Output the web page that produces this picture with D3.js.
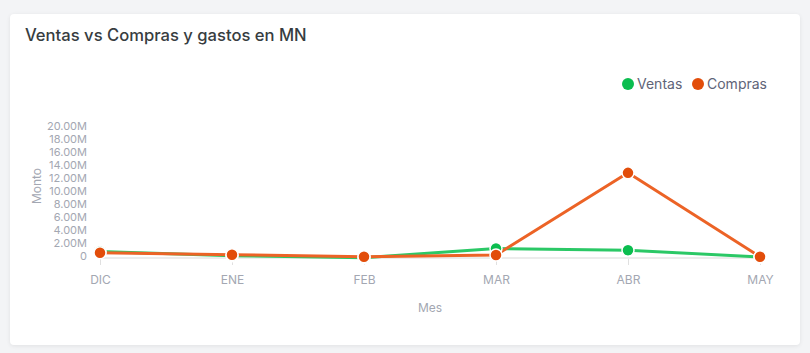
<!DOCTYPE html>
<html>
<head>
<meta charset="utf-8">
<script src="https://cdn.jsdelivr.net/npm/d3@7"></script>
<style>
  body { margin: 0; background: #f3f4f6; font-family: Inter, "Open Sans", sans-serif; }
  #card { position: absolute; left: 10px; top: 14px; width: 790px; height: 331px; background: #fff;
          border-radius: 4px; box-shadow: 0 1px 4px rgba(0,0,0,0.08); }
  svg { position: absolute; left: 0; top: 0; }
</style>
</head>
<body>
<div id="card"></div>
<div id="chart"></div>
<script>
const months = ["DIC", "ENE", "FEB", "MAR", "ABR", "MAY"];
const ventas = [1.0e6, 0.35e6, 0.05e6, 1.45e6, 1.2e6, 0.15e6];
const compras = [0.8e6, 0.5e6, 0.2e6, 0.45e6, 13.05e6, 0.2e6];
const yTicks = [0, 2e6, 4e6, 6e6, 8e6, 10e6, 12e6, 14e6, 16e6, 18e6, 20e6];

const width = 810, height = 353;
const svg = d3.select("#chart").append("svg")
    .attr("width", width)
    .attr("height", height);

const x = d3.scalePoint().domain(months).range([100, 760]);
const y = d3.scaleLinear().domain([0, 20e6]).range([258, 127.5]);

const gray = "#a3a7b2";

// title
svg.append("text")
    .attr("x", 25).attr("y", 41)
    .attr("font-size", 16.6).attr("font-weight", 500)
    .attr("fill", "#373d3f")
    .text("Ventas vs Compras y gastos en MN");

// legend
const series = [
    { name: "Ventas", values: ventas, line: "#2bc866", marker: "#0bbd4f" },
    { name: "Compras", values: compras, line: "#ec6326", marker: "#e24d0a" }
];
const legendX = [628, 698];
series.forEach((s, i) => {
    svg.append("circle").attr("cx", legendX[i]).attr("cy", 84).attr("r", 6).attr("fill", s.marker);
    svg.append("text").attr("x", legendX[i] + 9).attr("y", 89)
        .attr("font-size", 14).attr("fill", "#5f6478").text(s.name);
});

// baseline
svg.append("line")
    .attr("x1", 97).attr("x2", 763)
    .attr("y1", y(0)).attr("y2", y(0))
    .attr("stroke", "#e6e6e6").attr("stroke-width", 1.5);

// y axis
const yAxis = svg.append("g")
    .attr("transform", "translate(90,-2)")
    .call(d3.axisLeft(y).tickValues(yTicks).tickSize(0)
        .tickFormat(d => d === 0 ? "0" : (d / 1e6).toFixed(2) + "M"));
yAxis.select(".domain").remove();
yAxis.selectAll("text").attr("fill", gray).attr("font-size", 11).attr("font-family", "Inter, sans-serif");

// x axis
const xAxis = svg.append("g")
    .attr("transform", `translate(0,${y(0) + 1})`)
    .call(d3.axisBottom(x).tickSize(6).tickPadding(10));
xAxis.select(".domain").remove();
xAxis.selectAll("line").attr("stroke", "#e0e0e0");
xAxis.selectAll("text").attr("fill", gray).attr("font-size", 12).attr("font-family", "Inter, sans-serif");

// axis titles
svg.append("text")
    .attr("transform", "translate(41,186) rotate(-90)")
    .attr("text-anchor", "middle")
    .attr("font-size", 12).attr("fill", gray)
    .text("Monto");
svg.append("text")
    .attr("x", 430).attr("y", 312)
    .attr("text-anchor", "middle")
    .attr("font-size", 12).attr("fill", gray)
    .text("Mes");

// lines
const line = d3.line().x((d, i) => x(months[i])).y(d => y(d));
series.forEach(s => {
    svg.append("path")
        .attr("d", line(s.values))
        .attr("fill", "none")
        .attr("stroke", s.line)
        .attr("stroke-width", 3);
});

// markers
series.forEach(s => {
    svg.append("g").selectAll("circle")
        .data(s.values)
        .join("circle")
        .attr("cx", (d, i) => x(months[i]))
        .attr("cy", d => y(d))
        .attr("r", 6)
        .attr("fill", s.marker)
        .attr("stroke", "#fff")
        .attr("stroke-width", 1.5);
});
</script>
</body>
</html>
